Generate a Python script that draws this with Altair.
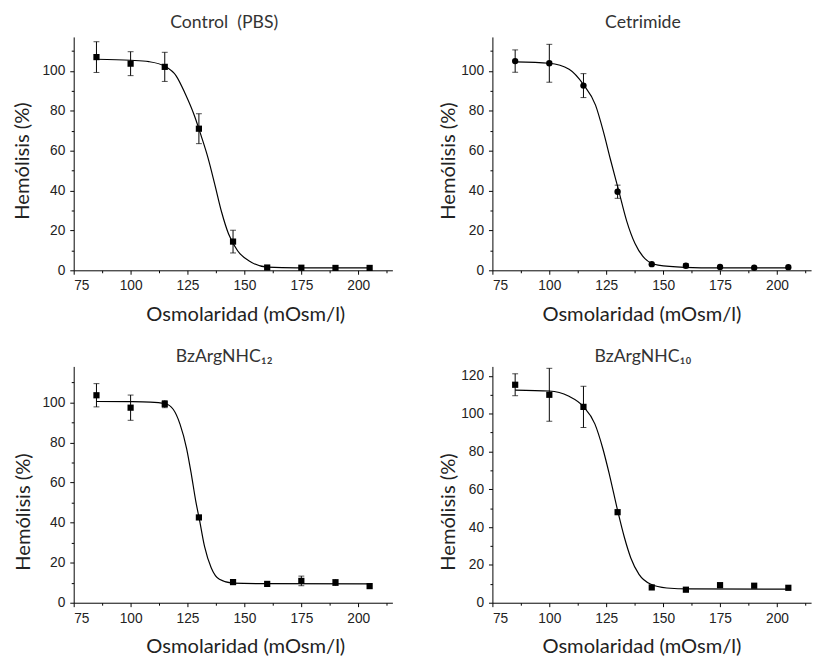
import altair as alt
import pandas as pd

# ---- data ----
x_pts = [85, 100, 115, 130, 145, 160, 175, 190, 205]

pbs_y = [106.9, 103.6, 102.0, 71.0, 14.4, 1.4, 1.3, 1.2, 1.2]
pbs_err = [7.7, 6.0, 7.3, 7.5, 5.7, 0, 0, 0, 0]
pbs_fit_x = [85, 100, 108, 115, 120, 124, 128, 131, 134, 137, 140, 143, 147, 153, 160, 173, 205]
pbs_fit_y = [105.8, 105.3, 104.6, 102.3, 97.5, 88.5, 77.6, 67.4, 56.4, 43.0, 29.1, 18.3, 9.8, 4.1, 1.6, 1.2, 1.2]

cet_y = [104.9, 103.8, 92.6, 39.4, 3.1, 2.3, 1.7, 1.3, 1.6]
cet_err = [5.6, 9.5, 6.0, 3.3, 0, 1.0, 0, 0, 0]
cet_fit_x = [85, 100, 108.7, 115, 120.3, 123.9, 126.8, 130.4, 134, 137.7, 142, 147.8, 159.4, 173.9, 205]
cet_fit_y = [104.5, 103.8, 100.8, 93.1, 82.8, 68.9, 55.8, 40.3, 24.7, 13.3, 5.9, 2.6, 1.5, 1.2, 1.2]

c12_y = [103.6, 97.4, 99.2, 42.6, 10.3, 9.4, 10.9, 10.1, 8.3]
c12_err = [5.8, 6.3, 1.8, 0, 1.0, 0, 2.4, 1.5, 0]
c12_fit_x = [85, 100, 108.6, 115, 118.7, 121.7, 124.6, 126.7, 128.6, 130.3, 132.5, 135.4, 139, 144.8, 159.3, 205]
c12_fit_y = [100.5, 100.4, 100.2, 99.5, 96.6, 89.2, 77.0, 64.0, 50.9, 41.1, 28.0, 17.5, 11.7, 9.8, 9.5, 9.4]

c10_y = [115.3, 110.0, 103.6, 47.9, 8.1, 6.9, 9.3, 9.0, 7.9]
c10_err = [5.8, 14.0, 10.9, 0, 0, 0, 0, 0, 0]
c10_fit_x = [85, 100, 108.4, 115, 120, 123.5, 126.4, 130, 132.9, 135.8, 139.4, 144.4, 151.6, 161.7, 205]
c10_fit_y = [112.5, 112.0, 109.3, 103.7, 94.6, 81.6, 67.8, 48.8, 34.9, 23.7, 15.0, 9.9, 7.8, 7.3, 7.2]

x_ticks = [75, 87.5, 100, 112.5, 125, 137.5, 150, 162.5, 175, 187.5, 200, 212.5]

TITLE_FONT = "Lato"
LABEL_FONT = "Liberation Sans"
W = 325


def panel(title, ys, errs, fx, fy, ymax, shape, size, xtitle_x, ytitle_x, ytitle_y, title_offset, h):
    pts = pd.DataFrame({"x": x_pts, "y": ys})
    eb = pd.DataFrame({
        "x": [x for x, e in zip(x_pts, errs) if e > 0],
        "lo": [y - e for y, e in zip(ys, errs) if e > 0],
        "hi": [y + e for y, e in zip(ys, errs) if e > 0],
    })
    fit = pd.DataFrame({"x": fx, "y": fy})

    y_ticks = list(range(0, int(ymax) + 1, 10))
    xs = alt.Scale(domain=[75, 215], nice=False, zero=False)
    ysc = alt.Scale(domain=[0, ymax], nice=False)
    xax = alt.Axis(
        values=x_ticks,
        labelExpr="datum.value % 25 === 0 ? format(datum.value, 'd') : ''",
        tickSize={"condition": {"test": "datum.value % 25 === 0", "value": 4}, "value": 2.5},
        labelPadding=5,
        titleX=xtitle_x, titleY=51, titleBaseline="alphabetic",
    )
    yax = alt.Axis(
        values=y_ticks,
        labelExpr="datum.value % 20 === 0 ? format(datum.value, 'd') : ''",
        tickSize={"condition": {"test": "datum.value % 20 === 0", "value": 4}, "value": 2.5},
        labelPadding=5,
        titleX=ytitle_x, titleY=ytitle_y, titleBaseline="alphabetic", titleAngle=270,
    )
    X = lambda f: alt.X(f, scale=xs, axis=xax, title="Osmolaridad (mOsm/l)")
    Y = lambda f: alt.Y(f, scale=ysc, axis=yax, title="Hemólisis (%)")

    line = alt.Chart(fit).mark_line(color="black", strokeWidth=1.2, interpolate="monotone").encode(
        x=X("x:Q"), y=Y("y:Q"))
    rule = alt.Chart(eb).mark_rule(color="black", strokeWidth=1).encode(
        x=X("x:Q"), y=Y("lo:Q"), y2="hi:Q")
    cap_lo = alt.Chart(eb).mark_tick(color="black", orient="horizontal", size=6, thickness=1).encode(
        x=X("x:Q"), y=Y("lo:Q"))
    cap_hi = alt.Chart(eb).mark_tick(color="black", orient="horizontal", size=6, thickness=1).encode(
        x=X("x:Q"), y=Y("hi:Q"))
    pt = alt.Chart(pts).mark_point(shape=shape, filled=True, color="black", size=size, opacity=1).encode(
        x=X("x:Q"), y=Y("y:Q"))
    return alt.layer(line, rule, cap_lo, cap_hi, pt).properties(
        width=W, height=h,
        title=alt.TitleParams(title, fontSize=18, font=TITLE_FONT, fontWeight="normal", color="#333333",
                              dx=-9, offset=title_offset, baseline="alphabetic", frame="group"),
    )


p1 = panel("Control\u00a0 (PBS)", pbs_y, pbs_err, pbs_fit_x, pbs_fit_y, 117, "square", 40, 175, -46, 126, -9, 238)
p2 = panel("Cetrimide", cet_y, cet_err, cet_fit_x, cet_fit_y, 117, "circle", 42, 152, -39, 126, -9, 238)
p3 = panel("BzArgNHC₁₂", c12_y, c12_err, c12_fit_x, c12_fit_y, 118, "square", 40, 175, -45, 148, -14, 241)
p4 = panel("BzArgNHC₁₀", c10_y, c10_err, c10_fit_x, c10_fit_y, 125, "square", 40, 152, -39, 148, -14, 241)

chart = alt.vconcat(
    alt.hconcat(p1, p2, spacing=47),
    alt.hconcat(p3, p4, spacing=47),
    spacing=24,
).properties(
    padding={"left": 5, "top": 0, "right": 5, "bottom": 2}
).configure_axis(
    domainColor="black", tickColor="black", domainWidth=1, tickWidth=1,
    labelColor="#222222", labelFont=LABEL_FONT, labelFontSize=14,
    titleColor="#222222", titleFont=TITLE_FONT, titleFontSize=20.5, titleFontWeight="normal",
    grid=False,
).configure_view(stroke=None).configure_concat(spacing=24)

chart.save("out.html", embed_options={"renderer": "svg", "actions": False})
